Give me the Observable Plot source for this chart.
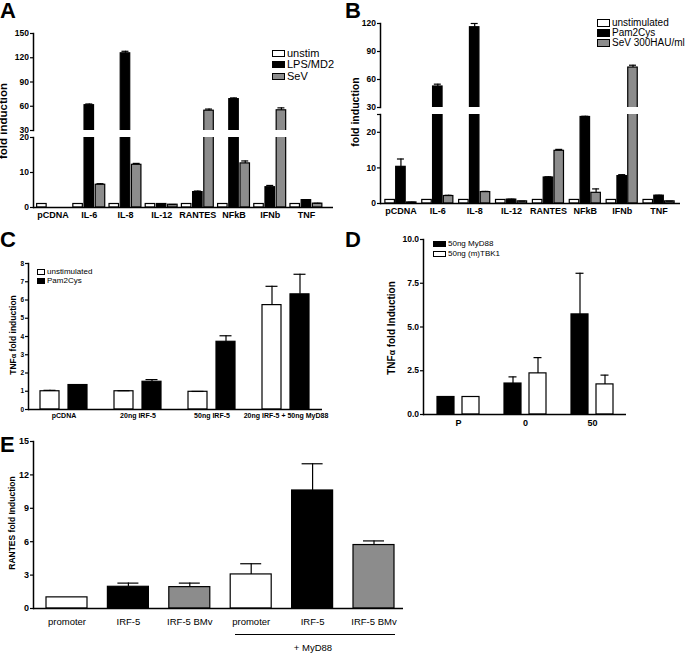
<!DOCTYPE html>
<html><head><meta charset="utf-8">
<script src="https://cdn.jsdelivr.net/npm/d3@7"></script>
<script src="https://cdn.jsdelivr.net/npm/@observablehq/plot@0.6"></script>
<style>
body{margin:0;background:#fff}
#fig{position:relative;width:685px;height:654px;overflow:hidden;background:#fff;font-family:"Liberation Sans",Arial,Helvetica,sans-serif;color:#000}
#fig svg{position:absolute;left:0;top:0}
.abs{position:absolute;white-space:nowrap;line-height:1}
.letter{font-weight:bold;font-size:22px}
.ylab{font-weight:bold;transform:translate(-50%,-50%) rotate(-90deg)}
.leg{display:flex;align-items:center}
.leg .box{border:1.2px solid #000;box-sizing:border-box;margin-right:2px}
</style></head>
<body><div id="fig"></div>
<script>
// ---------- data ----------
const aCats = ["pCDNA","IL-6","IL-8","IL-12","RANTES","NFkB","IFNb","TNF"];
const aSeries = ["unstim","LPS/MD2","SeV"];
const aUnstim = [1,1,1,1,1,1,1,1];
const aUnstimErr = [0,0,0,0,0,0,0,0];
const aLPS = [null,61.3,125.5,1.0,4.4,68.8,5.8,2.1];
const aLPSErr = [0,1.5,2.5,0.1,0.3,1.5,0.5,0.1];
const aSeV = [null,6.5,12.2,0.8,54.5,12.6,55,1.1];
const aSeVErr = [0,0.3,0.4,0.05,2,0.7,3,0.1];

const bCats = ["pCDNA","IL-6","IL-8","IL-12","RANTES","NFkB","IFNb","TNF"];
const bSeries = ["unstimulated","Pam2Cys","SeV 300HAU/ml"];
const bUnstim = [1,1,1,1,1,1,1,1];
const bUnstimErr = [0,0,0,0,0,0,0,0];
const bPam = [10.3,52.5,116,1.1,7.3,24.3,7.7,2.2];
const bPamErr = [2.2,2.5,4,0.1,0.2,0.2,0.4,0.1];
const bSeV = [0.3,2.1,3.2,0.6,14.8,3.0,72.8,0.6];
const bSeVErr = [0.05,0.2,0.2,0.05,0.4,1.1,2.5,0.05];

const cCats = ["pCDNA","20ng IRF-5","50ng IRF-5","20ng IRF-5 + 50ng MyD88"];
const cSeries = ["unstimulated","Pam2Cys"];
const cUnstim = [1.0,1.0,0.97,5.72];
const cUnstimErr = [0.05,0.03,0.02,1.03];
const cPam = [1.34,1.52,3.71,6.31];
const cPamErr = [0.02,0.12,0.33,1.1];

const dCats = ["P","0","50"];
const dSeries = ["50ng MyD88","50ng (m)TBK1"];
const dMyD88 = [1.0,1.77,5.72];
const dMyD88Err = [0,0.38,2.35];
const dTBK1 = [1.0,2.35,1.72];
const dTBK1Err = [0,0.9,0.53];

const eCats = ["promoter","IRF-5","IRF-5 BMv","promoter","IRF-5","IRF-5 BMv"];
const eGroup = ["","","","+ MyD88","+ MyD88","+ MyD88"];
const eKind = [0,1,2,0,1,2];   // white, black, gray
const eValues = [1.0,1.95,1.92,3.06,10.6,5.7];
const eErr = [0,0.33,0.36,0.96,2.4,0.37];

// ---------- helpers ----------
const W = 685, H = 654;
const FONT = "'Liberation Sans', Arial, Helvetica, sans-serif";
const WHITE = "#fff", BLACK = "#000", GRAY = "#8c8c8c";

function rowsFrom(keys, vals, errs) {
  return vals.flatMap((v, s) => v.map((value, j) => ({key: keys[j], s, value, err: errs[s][j]})));
}

function panel(o) {
  const [l, t, r, b] = o.frame;
  const bw = (o.xRange[1] - o.xRange[0]) / o.keys.length;
  const inset = (bw - o.barW) / 2;
  const capInset = (bw - o.capW) / 2;
  const marks = [];
  o.fills.forEach((fill, i) => {
    const d = o.rows.filter(row => row.s === i && row.value != null && (!o.keep || o.keep(row)));
    marks.push(Plot.barY(d, {x: "key", y: "value", dx: o.offsets[i], insetLeft: inset, insetRight: inset,
      fill, stroke: BLACK, strokeWidth: 1.2, clip: o.clip}));
    const e = d.filter(row => row.err > 0 && (!o.keepErr || o.keepErr(row)));
    marks.push(Plot.ruleX(e, {x: "key", y1: "value", y2: row => row.value + row.err, dx: o.offsets[i], stroke: BLACK, strokeWidth: 1.2}));
    marks.push(Plot.tickY(e, {x: "key", y: row => row.value + row.err, dx: o.offsets[i], insetLeft: capInset, insetRight: capInset, stroke: BLACK, strokeWidth: 1.2}));
  });
  marks.push(Plot.frame({anchor: "left", stroke: BLACK, strokeWidth: 1.5}));
  if (o.baseline) marks.push(Plot.ruleY([o.yDomain[0]], {stroke: BLACK, strokeWidth: 1.5}));
  marks.push(Plot.axisY({ticks: o.yTicks, tickFormat: o.yTickFormat, tickSize: 3, tickPadding: 1.5,
    fontSize: o.yFont, fontWeight: "bold", label: null, strokeWidth: 1.2}));
  if (o.xAxis) marks.push(Plot.axisX({tickSize: 0, tickPadding: o.xPad, tickFormat: o.xTickFormat,
    fontSize: o.xFont, fontWeight: o.xWeight || "bold", label: null}));
  return Plot.plot({
    width: W, height: H, marginLeft: l, marginTop: t, marginRight: W - r, marginBottom: H - b,
    x: {type: "band", domain: o.keys, range: o.xRange, padding: 0, round: false, axis: o.xAxis ? undefined : null},
    y: {domain: o.yDomain, axis: null},
    style: {background: "transparent", fontFamily: FONT, overflow: "visible"},
    marks
  });
}

const fig = document.getElementById("fig");
function add(node) { fig.appendChild(node); return node; }
function html(cls, text, css) {
  const d = document.createElement("div");
  d.className = "abs " + cls;
  d.innerHTML = text;
  Object.assign(d.style, css);
  return add(d);
}
function legend(items, fills, {left, centers, boxW, boxH, fontSize}) {
  items.forEach((name, i) => {
    const row = html("leg", "", {left: left + "px", top: (centers[i] - 6) + "px", height: "12px", fontSize: fontSize + "px"});
    const box = document.createElement("span");
    box.className = "box";
    Object.assign(box.style, {width: boxW + "px", height: boxH + "px", background: fills[i], display: "inline-block"});
    row.appendChild(box);
    const t = document.createElement("span");
    t.textContent = name;
    row.appendChild(t);
  });
}

// ---------- panel A (broken axis) ----------
const aRows = rowsFrom(aCats, [aUnstim, aLPS, aSeV], [aUnstimErr, aLPSErr, aSeVErr]);
const aCommon = {keys: aCats, xRange: [34.5, 324], rows: aRows, fills: [WHITE, BLACK, GRAY],
  offsets: [-11.2, 0, 11.2], barW: 9.5, capW: 7, clip: true, yFont: 8.5};
add(panel({...aCommon, frame: [33, 33, 333, 130], yDomain: [30, 150], yTicks: [30,60,90,120,150],
  keep: r => r.value > 30, baseline: false, xAxis: false}));
add(panel({...aCommon, frame: [33, 137, 333, 207], yDomain: [0, 20], yTicks: [0,10,20],
  keepErr: r => r.value + r.err <= 20, baseline: true, xAxis: true, xPad: 4, xFont: 9}));

// ---------- panel B (broken axis) ----------
const bRows = rowsFrom(bCats, [bUnstim, bPam, bSeV], [bUnstimErr, bPamErr, bSeVErr]);
const bCommon = {keys: bCats, xRange: [382, 677], rows: bRows, fills: [WHITE, BLACK, GRAY],
  offsets: [-10.8, 0, 10.8], barW: 9.5, capW: 7, clip: true, yFont: 8.5};
add(panel({...bCommon, frame: [380, 23, 680, 107], yDomain: [30, 120], yTicks: [30,60,90,120],
  keep: r => r.value > 30, baseline: false, xAxis: false}));
add(panel({...bCommon, frame: [380, 114, 680, 203], yDomain: [0, 25], yTicks: [0,10,20,25],
  yTickFormat: d => d === 25 ? "" : d,
  keepErr: r => r.value + r.err <= 25, baseline: true, xAxis: true, xPad: 4, xFont: 9}));

// ---------- panel C ----------
add(panel({keys: cCats, xRange: [26.5, 322.5], rows: rowsFrom(cCats, [cUnstim, cPam], [cUnstimErr, cPamErr]),
  fills: [WHITE, BLACK], offsets: [-14, 14], barW: 19, capW: 12, frame: [28, 263, 322, 409],
  yDomain: [0, 8], yTicks: d3.range(0, 9), yFont: 6.5, baseline: true, xAxis: true, xPad: 4, xFont: 7}));

// ---------- panel D ----------
add(panel({keys: dCats, xRange: [424.5, 625.5], rows: rowsFrom(dCats, [dMyD88, dTBK1], [dMyD88Err, dTBK1Err]),
  fills: [BLACK, WHITE], offsets: [-12.5, 12.5], barW: 17, capW: 8, frame: [423, 239, 626, 414],
  yDomain: [0, 10], yTicks: [0, 2.5, 5, 7.5, 10], yTickFormat: d3.format(".1f"), yFont: 8.5,
  baseline: true, xAxis: true, xPad: 5, xFont: 9}));

// ---------- panel E ----------
const eKeys = eCats.map((c, i) => eGroup[i] ? c + " " + eGroup[i] : c);
const eRows = eKeys.map((key, i) => ({key, s: eKind[i], value: eValues[i], err: eErr[i]}));
add(panel({keys: eKeys, xRange: [35.8, 404.2], rows: eRows, fills: [WHITE, BLACK, GRAY], offsets: [0, 0, 0],
  barW: 41, capW: 21, frame: [33, 441, 403, 608], yDomain: [0, 15], yTicks: d3.range(0, 16, 3), yFont: 9,
  baseline: true, xAxis: true, xPad: 10, xFont: 9.5, xWeight: "normal",
  xTickFormat: k => eCats[eKeys.indexOf(k)]}));

// ---------- text overlays ----------
html("letter", "A", {left: "0px", top: "0px"});
html("letter", "B", {left: "345px", top: "0px"});
html("letter", "C", {left: "0px", top: "229px"});
html("letter", "D", {left: "345px", top: "229px"});
html("letter", "E", {left: "0px", top: "434px"});

html("ylab", "fold induction", {left: "4px", top: "121px", fontSize: "11.5px"});
html("ylab", "fold induction", {left: "355px", top: "112px", fontSize: "10.5px"});
html("ylab", "TNF<span style='font-size:85%'>α</span> fold induction", {left: "13px", top: "335px", fontSize: "8.5px"});
html("ylab", "TNF<span style='font-size:85%'>α</span> fold Induction", {left: "392px", top: "328px", fontSize: "10px"});
html("ylab", "RANTES fold Induction", {left: "12px", top: "523px", fontSize: "8.5px"});

legend(aSeries, [WHITE, BLACK, GRAY], {left: 272, centers: [53, 64.5, 76], boxW: 13, boxH: 7, fontSize: 11});
legend(bSeries, [WHITE, BLACK, GRAY], {left: 597, centers: [23, 33, 43], boxW: 13, boxH: 8, fontSize: 10});
legend(cSeries, [WHITE, BLACK], {left: 37, centers: [272, 281], boxW: 8, boxH: 6, fontSize: 8});
legend(dSeries, [BLACK, WHITE], {left: 433, centers: [244, 254], boxW: 13, boxH: 6, fontSize: 8});

// bracket under panel E
html("", "", {left: "235px", top: "633.5px", width: "160px", height: "0px", borderTop: "1.2px solid #000"});
html("", "+ MyD88", {left: "313px", top: "648px", fontSize: "9.5px", transform: "translate(-50%,-50%)"});
</script></body></html>
